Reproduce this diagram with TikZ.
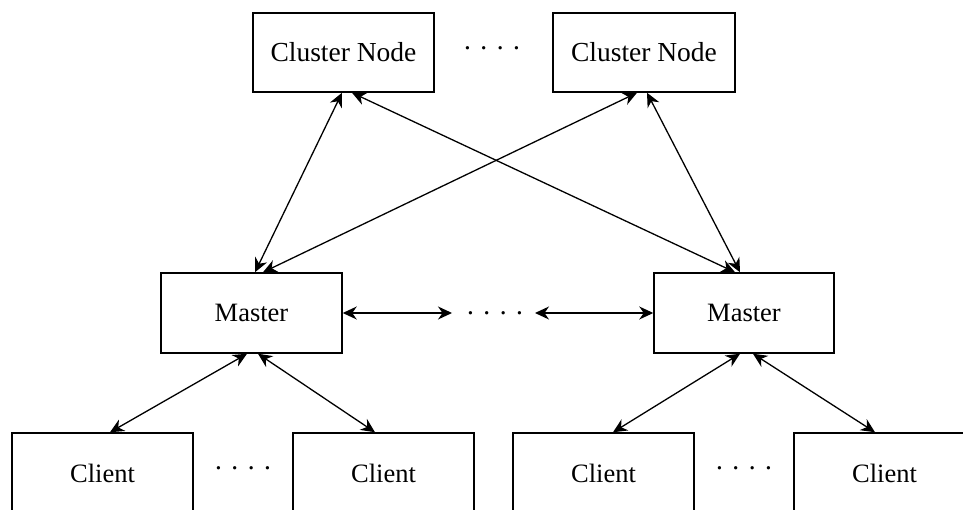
\documentclass[tikz,border=0pt]{standalone}
\usepackage{fontspec}
\setmainfont{Liberation Serif}
\usetikzlibrary{arrows.meta}
\begin{document}
\begin{tikzpicture}[x=1pt,y=-1pt,
  box/.style={draw=black, line width=1.5pt, rectangle, inner sep=0pt, minimum height=80pt, fill=white},
  wbox/.style={box, minimum width=181pt},
  lbl/.style={font=\fontsize{26.5}{30}\selectfont},
  cl/.style={font=\fontsize{27.5}{32}\selectfont},
  dots/.style={font=\fontsize{28}{30}\selectfont, inner sep=0pt},
  link/.style={line width=1.3pt, {Stealth[length=14pt,width=13pt,inset=4.5pt]}-{Stealth[length=14pt,width=13pt,inset=4.5pt]}}
]
\useasboundingbox (0,0) rectangle (963,510);

\node[wbox, cl, minimum height=79pt] (cn1) at (343.5,52.5) {Cluster Node};
\node[wbox, cl, minimum height=79pt, minimum width=182pt] (cn2) at (644,52.5) {Cluster Node};
\node[wbox, lbl] (m1) at (251.5,313) {Master};
\node[wbox, lbl, minimum width=180pt] (m2) at (744,313) {Master};
\node[wbox, lbl] (c1) at (102.5,473) {Client};
\node[wbox, lbl] (c2) at (383.5,473) {Client};
\node[wbox, lbl] (c3) at (603.5,473) {Client};
\node[wbox, lbl] (c4) at (884.5,473) {Client};

\node[dots] (d1) at (492,52) {· · · ·};
\node[dots] (d2) at (495,317) {· · · ·};
\node[dots] (d3) at (243,472) {· · · ·};
\node[dots] (d4) at (744,472) {· · · ·};

\coordinate (h1) at (452,313);
\coordinate (h2) at (535,313);

\draw[link] ([xshift=-1.5pt]cn1.south) -- ([xshift=3.5pt]m1.north);
\draw[link] ([xshift=8.5pt]cn1.south) -- ([xshift=-9pt]m2.north);
\draw[link] ([xshift=-7pt]cn2.south) -- ([xshift=11.5pt]m1.north);
\draw[link] ([xshift=3pt]cn2.south) -- ([xshift=-4pt]m2.north);

\draw[link] (m1.east) -- (h1);
\draw[link] (h2) -- (m2.west);

\draw[link] ([xshift=-4.5pt]m1.south) -- ([xshift=7.5pt]c1.north);
\draw[link] ([xshift=6.5pt]m1.south) -- ([xshift=-8.5pt]c2.north);
\draw[link] ([xshift=-4pt]m2.south) -- ([xshift=9.5pt]c3.north);
\draw[link] ([xshift=9pt]m2.south) -- ([xshift=-9.5pt]c4.north);
\end{tikzpicture}
\end{document}
